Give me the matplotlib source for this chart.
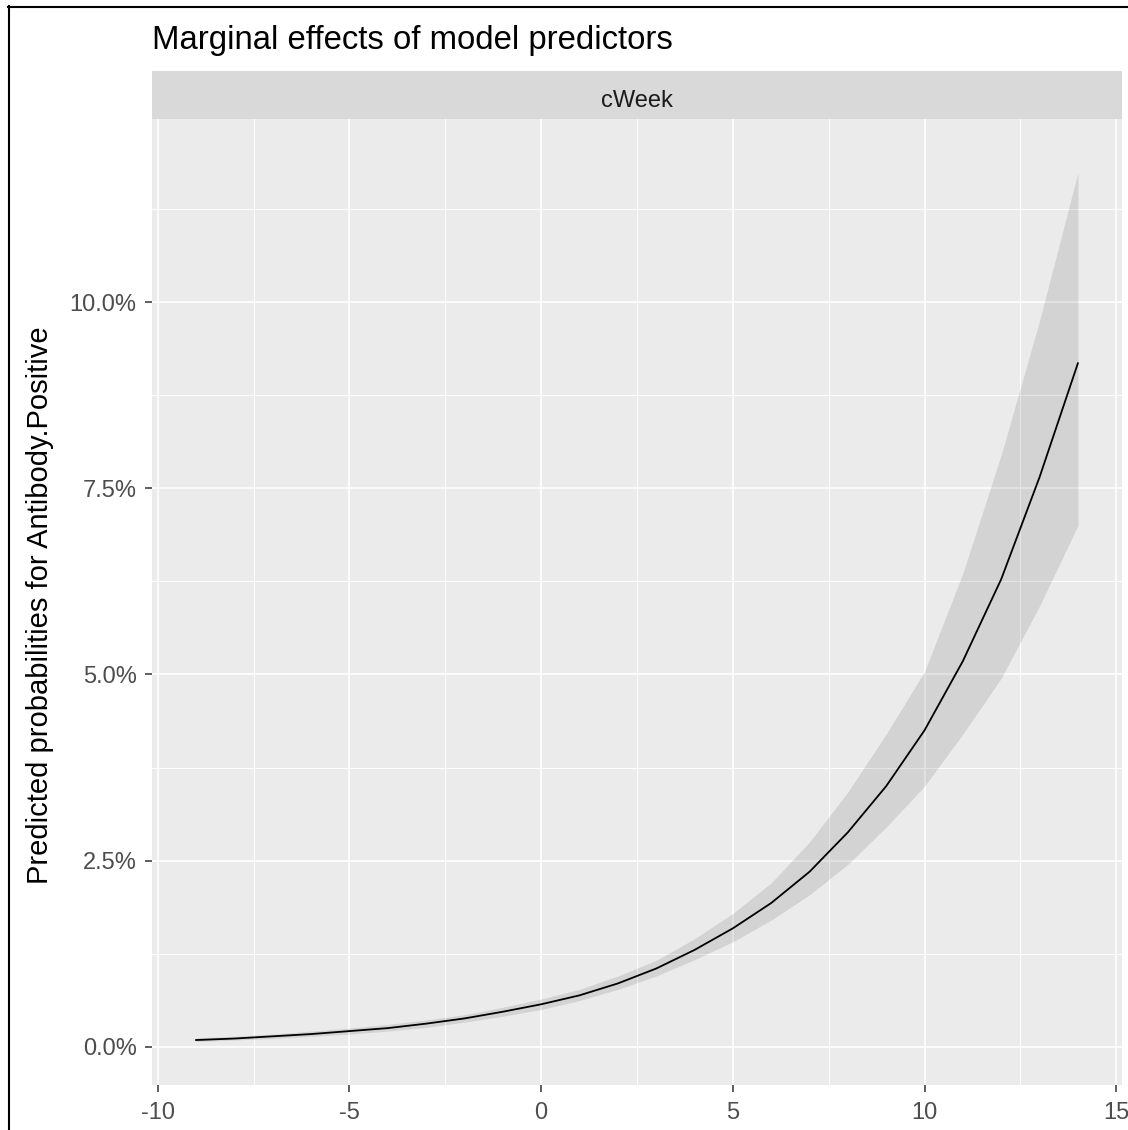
import matplotlib
matplotlib.use("Agg")
import matplotlib.pyplot as plt
from matplotlib.lines import Line2D
from matplotlib.ticker import FixedLocator, FuncFormatter

# predicted probability (%) of Antibody.Positive by cWeek
weeks = [-9, -8, -7, -6, -5, -4, -3, -2, -1, 0, 1, 2, 3, 4, 5, 6, 7, 8, 9, 10, 11, 12, 13, 14]
predicted = [0.09, 0.11, 0.14, 0.17, 0.21, 0.25, 0.31, 0.38, 0.47, 0.57, 0.69, 0.85,
             1.05, 1.30, 1.59, 1.93, 2.35, 2.88, 3.50, 4.25, 5.18, 6.28, 7.65, 9.18]
ci_low = [0.07, 0.09, 0.11, 0.14, 0.17, 0.21, 0.26, 0.33, 0.41, 0.50, 0.62, 0.77,
          0.95, 1.17, 1.41, 1.70, 2.04, 2.45, 2.95, 3.50, 4.20, 4.95, 5.92, 7.00]
ci_high = [0.12, 0.14, 0.17, 0.21, 0.25, 0.30, 0.36, 0.43, 0.53, 0.64, 0.77, 0.95,
           1.16, 1.45, 1.79, 2.20, 2.75, 3.42, 4.20, 5.04, 6.36, 7.95, 9.75, 11.74]

x_ticks = [-10, -5, 0, 5, 10, 15]
y_ticks = [0, 2.5, 5, 7.5, 10]

W, H = 1128, 1130
plt.rcParams['font.family'] = ['Liberation Sans', 'DejaVu Sans']
plt.rcParams['axes.unicode_minus'] = False

fig = plt.figure(figsize=(W / 100, H / 100), dpi=100)
fig.patch.set_facecolor('white')

# panel in pixel coordinates of the reference
left, right, top, bottom = 152, 1122, 119, 1085
ax = fig.add_axes([left / W, 1 - bottom / H, (right - left) / W, (bottom - top) / H])
ax.set_facecolor('#EBEBEB')
for s in ax.spines.values():
    s.set_visible(False)

ax.fill_between(weeks, ci_low, ci_high, color='black', alpha=0.1, linewidth=0, zorder=3)
ax.plot(weeks, predicted, color='black', linewidth=1.3, zorder=4)

ax.set_xlim(-10.15, 15.15)
ax.set_ylim(-0.514, 12.46)

ax.xaxis.set_major_locator(FixedLocator(x_ticks))
ax.xaxis.set_minor_locator(FixedLocator([-7.5, -2.5, 2.5, 7.5, 12.5]))
ax.yaxis.set_major_locator(FixedLocator(y_ticks))
ax.yaxis.set_minor_locator(FixedLocator([1.25, 3.75, 6.25, 8.75, 11.25]))
ax.yaxis.set_major_formatter(FuncFormatter(lambda v, p: f"{v:.1f}%"))
ax.xaxis.set_major_formatter(FuncFormatter(lambda v, p: f"{v:g}"))

ax.grid(which='major', color='white', linewidth=1.2, zorder=1)
ax.grid(which='minor', color='white', linewidth=0.7, zorder=1)
ax.set_axisbelow(True)

ax.tick_params(which='major', length=5, width=1.1, color='#333333',
               labelsize=17, labelcolor='#4D4D4D')
ax.tick_params(axis='y', pad=6)
ax.tick_params(axis='x', pad=7)
ax.tick_params(which='minor', length=0)

# facet strip
strip = fig.add_axes([left / W, 1 - top / H, (right - left) / W, (top - 71) / H])
strip.set_facecolor('#D9D9D9')
strip.set_xticks([])
strip.set_yticks([])
for s in strip.spines.values():
    s.set_visible(False)
fig.text((left + right) / 2 / W, 1 - 107.3 / H, 'cWeek', ha='center', va='baseline',
         fontsize=17, color='#1A1A1A')

fig.text(left / W, 1 - 49.3 / H, 'Marginal effects of model predictors',
         ha='left', va='baseline', fontsize=23.7, color='black')
fig.text(40.5 / W, 1 - 605 / H, 'Predicted probabilities for Antibody.Positive',
         rotation=90, ha='center', va='center', fontsize=21, color='black')

# screenshot frame on top and left
fig.add_artist(Line2D([8 / W, 1], [1 - 7 / H, 1 - 7 / H], color='black', linewidth=1.5))
fig.add_artist(Line2D([9 / W, 9 / W], [0, 1 - 6 / H], color='black', linewidth=1.5))

fig.savefig('out.png', dpi=100)
